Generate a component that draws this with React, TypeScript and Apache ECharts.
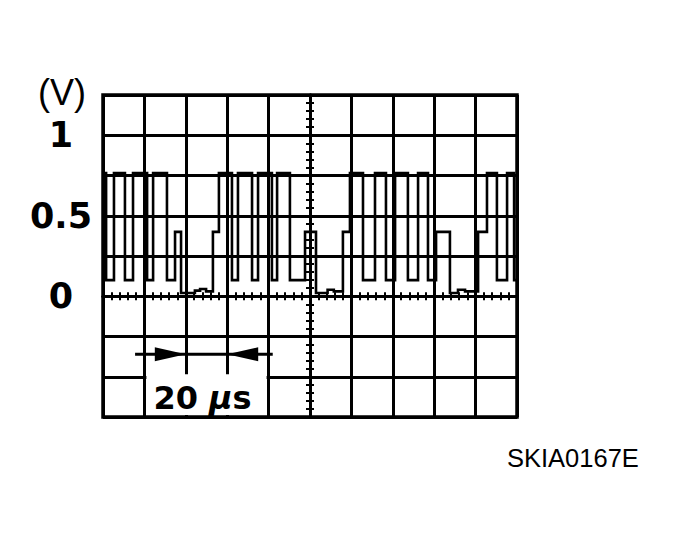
import React, { useEffect, useRef } from 'react';
import * as echarts from 'echarts';

// axes (time in µs, 20 µs per division; 0.25 V per division)
const timeMin = 0;
const timeMax = 200;
const timeStep = 20;
const voltMin = -0.75;
const voltMax = 1.25;
const voltStep = 0.25;
const voltTickLabels = ['1', '0.5', '0'];

// waveform edges: [time µs, level V after the edge]
const burstA = [[0, 0.765], [1.5, 0.1], [5.3, 0.765], [10.6, 0.1], [14.5, 0.765], [21.3, 0.1], [24.2, 0.765], [30.9, 0.1], [34.8, 0.4]];
const idleA = [[37.7, 0.02], [44.4, 0.035], [46.9, 0.045], [49.8, 0.03]];
const burstB = [[53.1, 0.4], [56.0, 0.765], [62.3, 0.1], [65.2, 0.765], [72.0, 0.1], [74.9, 0.765], [81.6, 0.1], [84.1, 0.765], [90.3, 0.1], [97.6, 0.4]];
const idleB = [[102.9, 0.02], [108.5, 0.04], [111.5, 0.03]];
const burstC = [[115.9, 0.4], [119.3, 0.765], [125.6, 0.1], [131.4, 0.765], [136.7, 0.1], [141.1, 0.765], [147.3, 0.1], [152.2, 0.765], [157.0, 0.1], [160.9, 0.4]];
const idleC = [[167.6, 0.02], [171.5, 0.04], [174.9, 0.03]];
const burstD = [[181.2, 0.4], [185.5, 0.765], [190.3, 0.1], [195.2, 0.765], [198.6, 0.1], [200, 0.1]];

// time-scale annotation
const scaleTips = [40, 60];
const scaleLineSpan = [15.5, 82];
const scaleLineVolt = -0.36;
const scaleBoxTime = [20, 80];
const scaleBoxVolt = [-0.5, -0.75];
const scaleValue = '20 ';
const scaleMu = 'µ';
const scaleUnit = 's';
const unitText = '(V)';
const figureCode = 'SKIA0167E';

const FONT = '"Liberation Sans", Arial, Helvetica, sans-serif';
const BOLD_FONT = '"DejaVu Sans", "Liberation Sans", Arial, sans-serif';

export default function App() {
  const ref = useRef<HTMLDivElement>(null);
  useEffect(() => {
    if (!ref.current) return;
    const chart = echarts.init(ref.current, undefined, { renderer: 'svg' });
    const black = '#000';
    const waveform = [...burstA, ...idleA, ...burstB, ...idleB, ...burstC, ...idleC, ...burstD];

    const baseX = {
      type: 'value' as const,
      min: timeMin,
      max: timeMax,
      interval: timeStep,
      axisLabel: { show: false },
    };
    const baseY = {
      type: 'value' as const,
      min: voltMin,
      max: voltMax,
      interval: voltStep,
    };
    const tickStyle = { color: black, width: 2 };

    chart.setOption({
      animation: false,
      backgroundColor: '#fff',
      grid: {
        left: 103,
        top: 95,
        width: 414,
        height: 322,
        show: true,
        borderColor: black,
        borderWidth: 3.5,
        backgroundColor: 'transparent',
      },
      xAxis: [
        {
          ...baseX,
          position: 'bottom',
          splitLine: { show: true, lineStyle: { color: black, width: 3 } },
          axisLine: { show: true, onZero: true, lineStyle: { color: black, width: 3 } },
          axisTick: { show: true, inside: true, length: 4, lineStyle: tickStyle },
          minorTick: { show: true, splitNumber: 5, length: 4, lineStyle: tickStyle },
        },
        {
          ...baseX,
          position: 'bottom',
          splitLine: { show: false },
          axisLine: { show: true, onZero: true, onZeroAxisIndex: 0, lineStyle: { color: black, width: 3 } },
          axisTick: { show: true, inside: false, length: 4, lineStyle: tickStyle },
          minorTick: { show: true, splitNumber: 5, length: 4, lineStyle: tickStyle },
        },
      ],
      yAxis: [
        {
          ...baseY,
          position: 'left',
          splitLine: { show: true, lineStyle: { color: black, width: 3 } },
          axisLine: { show: false, onZero: false },
          axisTick: { show: false },
          axisLabel: {
            show: true,
            align: 'center',
            margin: 42,
            color: black,
            fontSize: 35,
            fontWeight: 'bold',
            fontFamily: BOLD_FONT,
            formatter: (v: number) => {
              const s = String(Math.round(v * 100) / 100);
              return voltTickLabels.includes(s) ? s : '';
            },
          },
        },
        {
          ...baseY,
          position: 'left',
          offset: -207,
          splitLine: { show: false },
          axisLabel: { show: false },
          axisLine: { show: true, onZero: false, lineStyle: { color: black, width: 3 } },
          axisTick: { show: true, inside: true, length: 4, lineStyle: tickStyle },
          minorTick: { show: true, splitNumber: 5, length: 4, lineStyle: tickStyle },
        },
        {
          ...baseY,
          position: 'left',
          offset: -207,
          splitLine: { show: false },
          axisLabel: { show: false },
          axisLine: { show: true, onZero: false, lineStyle: { color: black, width: 3 } },
          axisTick: { show: true, inside: false, length: 4, lineStyle: tickStyle },
          minorTick: { show: true, splitNumber: 5, length: 4, lineStyle: tickStyle },
        },
      ],
      series: [
        {
          name: 'signal',
          type: 'line',
          xAxisIndex: 0,
          yAxisIndex: 0,
          step: 'end',
          showSymbol: false,
          symbol: 'none',
          z: 5,
          lineStyle: { color: black, width: 2.6, join: 'miter' },
          data: waveform,
        },
      ],
    });

    const px = (t: number, v: number) => chart.convertToPixel({ seriesIndex: 0 }, [t, v]) as number[];
    const [tipL, tipR] = scaleTips.map((t) => px(t, scaleLineVolt));
    const lineA = px(scaleLineSpan[0], scaleLineVolt);
    const lineB = px(scaleLineSpan[1], scaleLineVolt);
    const boxTL = px(scaleBoxTime[0], scaleBoxVolt[0]);
    const boxBR = px(scaleBoxTime[1], scaleBoxVolt[1]);
    const headLen = 31;
    const headHalf = 7;

    chart.setOption({
      graphic: [
        {
          type: 'rect',
          z: 100,
          shape: {
            x: boxTL[0] + 2,
            y: boxTL[1] - 2.5,
            width: boxBR[0] - boxTL[0] - 4,
            height: boxBR[1] - boxTL[1] + 0.5,
          },
          style: { fill: '#fff' },
        },
        {
          type: 'text',
          z: 101,
          x: (boxTL[0] + boxBR[0]) / 2 - 4,
          y: (boxTL[1] + boxBR[1]) / 2 + 1,
          style: {
            text: `{a|${scaleValue}}{m|${scaleMu}}{a|${scaleUnit}}`,
            fill: black,
            align: 'center',
            verticalAlign: 'middle',
            rich: {
              a: { fontFamily: BOLD_FONT, fontWeight: 'bold', fontSize: 32, fill: black },
              m: { fontFamily: BOLD_FONT, fontWeight: 'bold', fontStyle: 'italic', fontSize: 32, fill: black },
            },
          },
        },
        {
          type: 'line',
          z: 100,
          shape: { x1: lineA[0], y1: lineA[1], x2: lineB[0], y2: lineB[1] },
          style: { stroke: black, lineWidth: 3 },
        },
        {
          type: 'polygon',
          z: 100,
          shape: { points: [[tipL[0], tipL[1]], [tipL[0] - headLen, tipL[1] - headHalf], [tipL[0] - headLen, tipL[1] + headHalf]] },
          style: { fill: black },
        },
        {
          type: 'polygon',
          z: 100,
          shape: { points: [[tipR[0], tipR[1]], [tipR[0] + headLen, tipR[1] - headHalf], [tipR[0] + headLen, tipR[1] + headHalf]] },
          style: { fill: black },
        },
        {
          type: 'text',
          z: 100,
          x: 38,
          y: 74,
          style: { text: unitText, fill: black, font: `36px ${FONT}` },
        },
        {
          type: 'text',
          z: 100,
          x: 507,
          y: 445,
          style: { text: figureCode, fill: black, font: `25.5px ${FONT}` },
        },
      ],
    });

    return () => chart.dispose();
  }, []);

  return (
    <div
      ref={ref}
      style={{ position: 'fixed', left: 0, top: 0, width: 679, height: 541, background: '#fff' }}
    />
  );
}
